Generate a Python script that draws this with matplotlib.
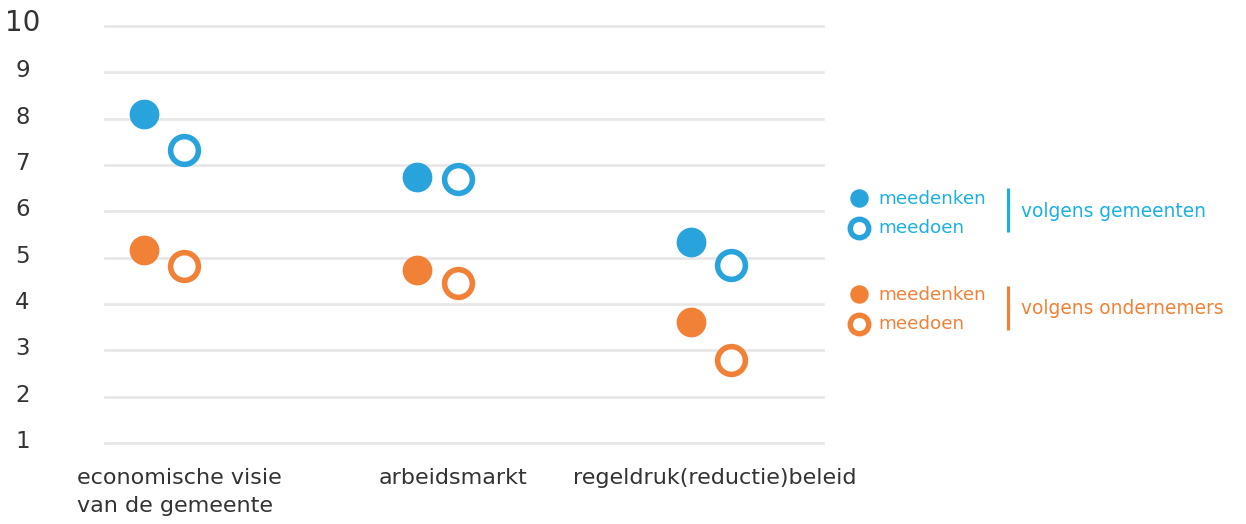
import matplotlib
matplotlib.use("Agg")
import matplotlib.pyplot as plt
from matplotlib.transforms import offset_copy, blended_transform_factory

plt.rcParams['font.family'] = ['DejaVu Sans']

categories = ["economische visie\nvan de gemeente", "arbeidsmarkt", "regeldruk(reductie)beleid"]
gem_meedenken = [8.09, 6.74, 5.33]
gem_meedoen = [7.32, 6.70, 4.84]
ond_meedenken = [5.16, 4.73, 3.61]
ond_meedoen = [4.81, 4.45, 2.79]
yticks = [1, 2, 3, 4, 5, 6, 7, 8, 9, 10]

BLUE = "#29a3dc"
BLUE_T = "#1cb0e0"
ORANGE = "#f28138"
GRID = "#e6e6e6"
TXT = "#333333"

W, H, DPI = 1246, 524, 100
PT = 72.0 / DPI  # points per pixel
fig = plt.figure(figsize=(W / DPI, H / DPI), dpi=DPI)
ax = fig.add_axes([105 / W, 1 - 443 / H, (823 - 105) / W, (443 - 26) / H])
ax.set_xlim(-0.2166, 2.410)
ax.set_ylim(1, 10)
for s in ax.spines.values():
    s.set_visible(False)
ax.set_xticks([])
ax.set_yticks([])

for y in yticks:
    ax.axhline(y, color=GRID, lw=1.9, zorder=1, clip_on=False)

x = list(range(len(categories)))
off = 0.074
xf = [i - off for i in x]
xo = [i + off for i in x]

ms_f = 20.4
ms_o = 20.0
mew_o = 4.0
ax.plot(xf, gem_meedenken, 'o', ls='none', ms=ms_f, color=BLUE, mec=BLUE, zorder=3, clip_on=False)
ax.plot(xo, gem_meedoen, 'o', ls='none', ms=ms_o, mfc='white', mec=BLUE, mew=mew_o, zorder=3, clip_on=False)
ax.plot(xf, ond_meedenken, 'o', ls='none', ms=ms_f, color=ORANGE, mec=ORANGE, zorder=3, clip_on=False)
ax.plot(xo, ond_meedoen, 'o', ls='none', ms=ms_o, mfc='white', mec=ORANGE, mew=mew_o, zorder=3, clip_on=False)

# y tick labels
ytrans = blended_transform_factory(fig.transFigure, ax.transData)
for y in yticks:
    t = offset_copy(ytrans, fig=fig, x=0, y=-5 * PT, units='points')
    ax.text(22.5 / W, y, str(y), transform=t, ha='center', va='baseline',
            fontsize=20 if y == 10 else 16.5, color=TXT, clip_on=False)

# category labels (pixel offsets relative to category centre)
xtrans = blended_transform_factory(ax.transData, fig.transFigure)
label_dx = [-87.2, 15.0, 3.6]
label_ha = ['left', 'center', 'center']
for i, cat in enumerate(categories):
    t = offset_copy(xtrans, fig=fig, x=label_dx[i] * PT, y=0, units='points')
    for k, line in enumerate(cat.split("\n")):
        ax.text(i, 1 - (484 + 28 * k) / H, line, transform=t, ha=label_ha[i],
                va='baseline', fontsize=16, color=TXT)

# legend overlay in pixel coordinates
lg = fig.add_axes([0, 0, 1, 1], facecolor='none')
lg.set_xlim(0, W)
lg.set_ylim(H, 0)
lg.axis('off')

groups = [
    (BLUE, BLUE_T, 198.3, 227.8, 204.0, 233.3, 188, 232, 217.3, "volgens gemeenten"),
    (ORANGE, ORANGE, 294.3, 323.5, 300.0, 329.3, 286, 330, 314.5, "volgens ondernemers"),
]
for mc, tc, y1, y2, t1, t2, b0, b1, ym, label in groups:
    lg.plot([858.5], [y1], 'o', ms=12.3, color=mc)
    lg.plot([858.5], [y2], 'o', ms=13.3, mfc='white', mec=mc, mew=3.9)
    lg.text(878, t1, "meedenken", color=tc, fontsize=13.2, va='baseline', ha='left')
    lg.text(878, t2, "meedoen", color=tc, fontsize=13.2, va='baseline', ha='left')
    lg.plot([1008, 1008], [b0, b1], color=tc, lw=2.3, solid_capstyle='butt')
    lg.text(1021, ym, label, color=tc, fontsize=13.4, va='baseline', ha='left')

fig.savefig("out.png", dpi=DPI)
